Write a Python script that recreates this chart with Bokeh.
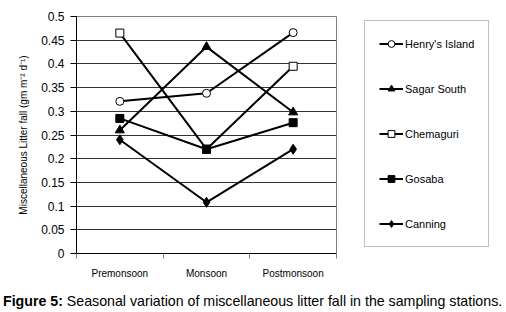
from bokeh.plotting import figure
from bokeh.models import Range1d, FixedTicker, Legend, LegendItem, Div
from bokeh.layouts import column, row
from bokeh.embed import file_html
from bokeh.resources import INLINE

seasons = ["Premonsoon", "Monsoon", "Postmonsoon"]
henrys_island = [0.321, 0.338, 0.466]
sagar_south = [0.260, 0.436, 0.298]
chemaguri = [0.465, 0.220, 0.395]
gosaba = [0.285, 0.220, 0.276]
canning = [0.240, 0.108, 0.220]
y_ticks = [0, 0.05, 0.1, 0.15, 0.2, 0.25, 0.3, 0.35, 0.4, 0.45, 0.5]

FONT = "Liberation Sans"
xs = [i + 0.5 for i in range(len(seasons))]

p = figure(width=337, height=286, output_backend="svg", toolbar_location=None,
           x_range=Range1d(0, len(seasons)), y_range=Range1d(0, 0.5),
           min_border_left=76, min_border_right=1, min_border_top=16, min_border_bottom=33)
p.background_fill_color = "white"
p.border_fill_color = "white"
p.outline_line_color = "#808080"
p.outline_line_width = 1

# X axis
p.xaxis.ticker = FixedTicker(ticks=xs, minor_ticks=list(range(len(seasons) + 1)))
p.xaxis.major_label_overrides = {x: s for x, s in zip(xs, seasons)}
p.xaxis.major_tick_out = 0
p.xaxis.major_tick_in = 0
p.xaxis.minor_tick_out = 5
p.xaxis.minor_tick_in = 0
p.xaxis.minor_tick_line_color = "#808080"
p.xaxis.axis_line_color = "black"
p.xaxis.major_label_standoff = 9
p.xaxis.major_label_text_font = FONT
p.xaxis.major_label_text_font_size = "10px"
p.xaxis.major_label_text_color = "black"
p.xgrid.visible = False

# Y axis
p.yaxis.ticker = FixedTicker(ticks=y_ticks)
p.yaxis.major_label_overrides = {t: f"{t:g}" for t in y_ticks}
p.yaxis.minor_tick_line_color = None
p.yaxis.major_tick_out = 6
p.yaxis.major_tick_in = 0
p.yaxis.major_label_standoff = 6
p.yaxis.major_label_text_font = FONT
p.yaxis.major_label_text_font_size = "12px"
p.yaxis.major_label_text_color = "black"
p.yaxis.axis_line_color = "black"
p.yaxis.axis_label = "Miscellaneous Litter fall (gm m\u207b\u00b2 d\u207b\u00b9)"
p.yaxis.axis_label_text_font = FONT
p.yaxis.axis_label_text_font_size = "10px"
p.yaxis.axis_label_text_font_style = "normal"
p.yaxis.axis_label_text_color = "black"
p.yaxis.axis_label_standoff = 9
p.ygrid.grid_line_color = "#333333"
p.ygrid.grid_line_width = 1

series = [
    ("Henry's Island", henrys_island, "circle", "white", 8),
    ("Sagar South", sagar_south, "triangle", "black", 9),
    ("Chemaguri", chemaguri, "square", "white", 8),
    ("Gosaba", gosaba, "square", "black", 8),
    ("Canning", canning, "diamond", "black", 10),
]

# Legend panel: a second figure whose ranges keep its own copies of the series out of view
lf = figure(width=169, height=286, output_backend="svg", toolbar_location=None,
            x_range=Range1d(100, 101), y_range=Range1d(100, 101),
            x_axis_location=None, y_axis_location=None,
            min_border_left=0, min_border_right=0, min_border_top=0, min_border_bottom=0)
lf.grid.visible = False
lf.outline_line_color = None
lf.background_fill_color = "white"
lf.border_fill_color = "white"

items = []
for name, vals, marker, fill, size in series:
    p.line(xs, vals, line_color="black", line_width=2)
    p.scatter(xs, vals, marker=marker, size=size, fill_color=fill,
              line_color="black", line_width=1)
    lln = lf.line(xs, vals, line_color="black", line_width=2)
    lsc = lf.scatter(xs, vals, marker=marker, size=size, fill_color=fill,
                     line_color="black", line_width=1)
    items.append(LegendItem(label=name, renderers=[lln, lsc]))

legend = Legend(items=items, location=(27, 6))
legend.label_text_font = FONT
legend.label_text_font_size = "11px"
legend.label_text_color = "black"
legend.glyph_width = 24
legend.glyph_height = 17
legend.label_height = 17
legend.spacing = 28
legend.padding = 14
legend.margin = 0
legend.label_standoff = 2
legend.border_line_color = "#808080"
legend.border_line_width = 1
legend.background_fill_color = "white"
legend.background_fill_alpha = 1
lf.add_layout(legend, "center")

caption = Div(
    text=('<div style="font-family:\'Liberation Sans\';font-size:14.2px;color:black;'
          'white-space:nowrap;padding-left:3px;padding-top:7px;margin:0;line-height:16px;">'
          '<b>Figure 5:</b> Seasonal variation of miscellaneous litter fall in the sampling stations.</div>'),
    width=506, height=26, margin=(0, 0, 0, 0))

layout = column(row(p, lf, spacing=0), caption, spacing=0)
open("out.html", "w").write(file_html(layout, INLINE))
